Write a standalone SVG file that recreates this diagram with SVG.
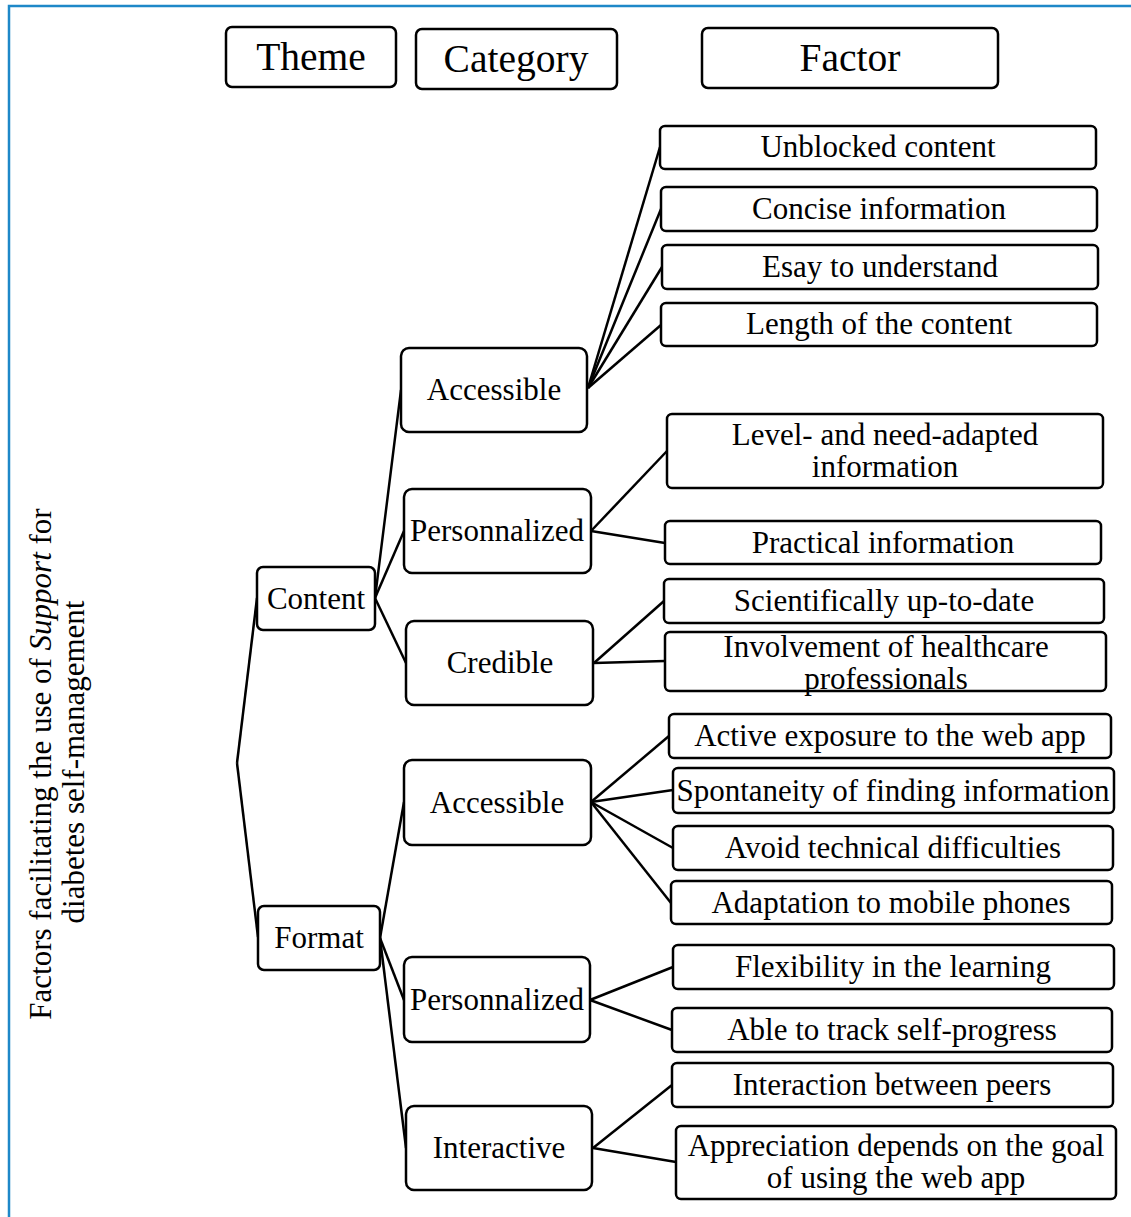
<svg xmlns="http://www.w3.org/2000/svg" width="1131" height="1217" viewBox="0 0 1131 1217">
<style>
.box{fill:#fff;stroke:#000;stroke-width:2.5}
.t{font-family:"Liberation Serif","Times New Roman",serif;font-size:31px;fill:#000;text-anchor:middle}
.h{font-size:39.5px}
.c line{stroke:#000;stroke-width:2.5}
</style>
<rect x="0" y="0" width="1131" height="1217" fill="#fff"/>
<path d="M9 1217 V6 H1131" fill="none" stroke="#1e88c8" stroke-width="2.5"/>
<g class="c">
<line x1="237" y1="763" x2="257" y2="598"/>
<line x1="237" y1="763" x2="258" y2="937"/>
<line x1="375" y1="598" x2="401" y2="390"/>
<line x1="375" y1="598" x2="404" y2="531"/>
<line x1="375" y1="598" x2="406" y2="663"/>
<line x1="380" y1="938" x2="404" y2="802"/>
<line x1="380" y1="938" x2="404" y2="1000"/>
<line x1="380" y1="938" x2="406" y2="1148"/>
<line x1="588" y1="388" x2="660" y2="147"/>
<line x1="588" y1="388" x2="661" y2="209"/>
<line x1="588" y1="388" x2="662" y2="267"/>
<line x1="588" y1="388" x2="661" y2="325"/>
<line x1="591" y1="531" x2="667" y2="451"/>
<line x1="591" y1="531" x2="665" y2="543"/>
<line x1="594" y1="663" x2="664" y2="601"/>
<line x1="594" y1="663" x2="665" y2="661"/>
<line x1="591" y1="802" x2="669" y2="736"/>
<line x1="591" y1="802" x2="673" y2="790"/>
<line x1="591" y1="802" x2="673" y2="848"/>
<line x1="591" y1="802" x2="671" y2="903"/>
<line x1="590" y1="1000" x2="673" y2="967"/>
<line x1="590" y1="1000" x2="672" y2="1030"/>
<line x1="593" y1="1148" x2="672" y2="1085"/>
<line x1="593" y1="1148" x2="676" y2="1162"/>
</g>
<g id="title"><text class="t" transform="translate(51,764) rotate(-90)">Factors facilitating the use of <tspan font-style="italic">Support</tspan> for</text><text class="t" transform="translate(84,762) rotate(-90)">diabetes self-management</text></g>
<g id="h-theme"><rect class="box" x="226" y="27" width="170" height="60" rx="6"/><text class="t h" x="311" y="70">Theme</text></g>
<g id="h-category"><rect class="box" x="416" y="29" width="201" height="60" rx="6"/><text class="t h" x="516" y="72">Category</text></g>
<g id="h-factor"><rect class="box" x="702" y="28" width="296" height="60" rx="6"/><text class="t h" x="850" y="71">Factor</text></g>
<g id="content"><rect class="box" x="257" y="567" width="118" height="63" rx="6"/><text class="t" x="316" y="609">Content</text></g>
<g id="format"><rect class="box" x="258" y="906" width="122" height="64" rx="6"/><text class="t" x="319" y="948">Format</text></g>
<g id="c-accessible"><rect class="box" x="401" y="348" width="186" height="84" rx="8"/><text class="t" x="494" y="400">Accessible</text></g>
<g id="c-personnalized"><rect class="box" x="404" y="489" width="187" height="84" rx="8"/><text class="t" x="497" y="541">Personnalized</text></g>
<g id="c-credible"><rect class="box" x="406" y="621" width="187" height="84" rx="8"/><text class="t" x="500" y="673">Credible</text></g>
<g id="f-accessible"><rect class="box" x="404" y="760" width="187" height="85" rx="8"/><text class="t" x="497" y="813">Accessible</text></g>
<g id="f-personnalized"><rect class="box" x="404" y="957" width="186" height="85" rx="8"/><text class="t" x="497" y="1010">Personnalized</text></g>
<g id="f-interactive"><rect class="box" x="406" y="1106" width="186" height="84" rx="8"/><text class="t" x="499" y="1158">Interactive</text></g>
<g id="f1"><rect class="box" x="660" y="126" width="436" height="43" rx="5"/><text class="t" x="878" y="157">Unblocked content</text></g>
<g id="f2"><rect class="box" x="661" y="187" width="436" height="44" rx="5"/><text class="t" x="879" y="219">Concise information</text></g>
<g id="f3"><rect class="box" x="662" y="245" width="436" height="44" rx="5"/><text class="t" x="880" y="277">Esay to understand</text></g>
<g id="f4"><rect class="box" x="661" y="303" width="436" height="43" rx="5"/><text class="t" x="879" y="334">Length of the content</text></g>
<g id="f5"><rect class="box" x="667" y="414" width="436" height="74" rx="5"/><text class="t" x="885" y="445">Level- and need-adapted</text><text class="t" x="885" y="477">information</text></g>
<g id="f6"><rect class="box" x="665" y="521" width="436" height="43" rx="5"/><text class="t" x="883" y="553">Practical information</text></g>
<g id="f7"><rect class="box" x="664" y="579" width="440" height="44" rx="5"/><text class="t" x="884" y="611">Scientifically up-to-date</text></g>
<g id="f8"><rect class="box" x="665" y="632" width="441" height="59" rx="5"/><text class="t" x="886" y="657">Involvement of healthcare</text><text class="t" x="886" y="689">professionals</text></g>
<g id="f9"><rect class="box" x="669" y="714" width="442" height="44" rx="5"/><text class="t" x="890" y="746">Active exposure to the web app</text></g>
<g id="f10"><rect class="box" x="673" y="768" width="441" height="45" rx="5"/><text class="t" x="893" y="801">Spontaneity of finding information</text></g>
<g id="f11"><rect class="box" x="673" y="826" width="440" height="44" rx="5"/><text class="t" x="893" y="858">Avoid technical difficulties</text></g>
<g id="f12"><rect class="box" x="671" y="881" width="441" height="43" rx="5"/><text class="t" x="891" y="913">Adaptation to mobile phones</text></g>
<g id="f13"><rect class="box" x="673" y="945" width="441" height="44" rx="5"/><text class="t" x="893" y="977">Flexibility in the learning</text></g>
<g id="f14"><rect class="box" x="672" y="1008" width="440" height="44" rx="5"/><text class="t" x="892" y="1040">Able to track self-progress</text></g>
<g id="f15"><rect class="box" x="672" y="1063" width="441" height="44" rx="5"/><text class="t" x="892" y="1095">Interaction between peers</text></g>
<g id="f16"><rect class="box" x="676" y="1126" width="440" height="73" rx="5"/><text class="t" x="896" y="1156">Appreciation depends on the goal</text><text class="t" x="896" y="1188">of using the web app</text></g>
</svg>
